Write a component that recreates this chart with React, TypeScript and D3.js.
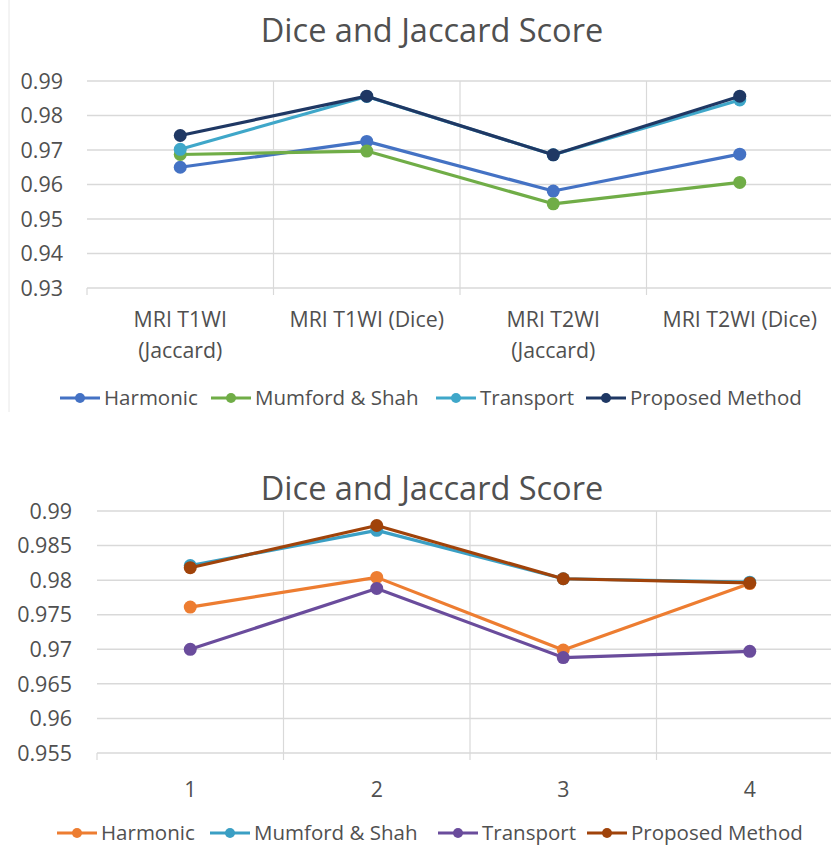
import React from "react";
import * as d3 from "d3";

// ---------- Data ----------
const topCategories = [["MRI T1WI", "(Jaccard)"], ["MRI T1WI (Dice)"], ["MRI T2WI", "(Jaccard)"], ["MRI T2WI (Dice)"]];
const topTicks = [0.93, 0.94, 0.95, 0.96, 0.97, 0.98, 0.99];
const topSeriesNames = ["Harmonic", "Mumford & Shah", "Transport", "Proposed Method"];
const topHarmonic = [0.965, 0.9725, 0.9581, 0.9688];
const topMumford = [0.9687, 0.9697, 0.9544, 0.9606];
const topTransport = [0.9702, 0.9855, 0.9686, 0.9845];
const topProposed = [0.9742, 0.9856, 0.9686, 0.9856];
const topColors = ["#4472C4", "#70AD47", "#3FA7C9", "#1F3864"];

const bottomCategories = [["1"], ["2"], ["3"], ["4"]];
const bottomTicks = [0.955, 0.96, 0.965, 0.97, 0.975, 0.98, 0.985, 0.99];
const bottomSeriesNames = ["Harmonic", "Mumford & Shah", "Transport", "Proposed Method"];
const bottomHarmonic = [0.9761, 0.9804, 0.9699, 0.9795];
const bottomMumford = [0.9821, 0.9872, 0.9802, 0.9797];
const bottomTransport = [0.97, 0.9788, 0.9688, 0.9697];
const bottomProposed = [0.9818, 0.9879, 0.9802, 0.9796];
const bottomColors = ["#ED7D31", "#3A9FC4", "#6A4C9C", "#A0430A"];

const FONT = "'Open Sans', 'DejaVu Sans', sans-serif";
const TEXT = "#505050";
const GRID = "#D9D9D9";

type ChartProps = {
  titleY: number;
  x0: number;
  y0: number;
  y1: number;
  band: number;
  labelRight: number;
  tickSize: number;
  domain: [number, number];
  ticks: number[];
  tickFormat: (v: number) => string;
  categories: string[][];
  catLabelY: number;
  series: number[][];
  names: string[];
  colors: string[];
  legendY: number;
  legendX: number[];
};

function Chart(p: ChartProps) {
  const n = p.categories.length;
  const x = d3.scaleBand<number>().domain(d3.range(n)).range([p.x0, p.x0 + p.band * n]);
  const y = d3.scaleLinear().domain(p.domain).range([p.y1, p.y0]);
  const cx = (i: number) => (x(i) as number) + x.bandwidth() / 2;
  const line = d3
    .line<number>()
    .x((_, i) => cx(i))
    .y((d) => y(d));
  const xEnd = p.x0 + p.band * n;
  return (
    <g>
      <text x={432} y={p.titleY} textAnchor="middle" fontFamily={FONT} fontSize={32.5} fill={TEXT}>
        Dice and Jaccard Score
      </text>
      {p.ticks.map((t) => (
        <g key={t}>
          <line x1={p.x0} x2={xEnd} y1={y(t)} y2={y(t)} stroke={GRID} strokeWidth={1.5} />
          <text x={p.labelRight} y={y(t)} dy="0.36em" textAnchor="end" fontFamily={FONT} fontSize={p.tickSize} fill={TEXT}>
            {p.tickFormat(t)}
          </text>
        </g>
      ))}
      {d3.range(n + 1).map((i) => (
        <line
          key={"v" + i}
          x1={p.x0 + p.band * i}
          x2={p.x0 + p.band * i}
          y1={i === 0 ? p.y1 : p.y0}
          y2={p.y1 + 7}
          stroke={GRID}
          strokeWidth={1.2}
        />
      ))}
      {p.categories.map((lines, i) => (
        <text key={"c" + i} textAnchor="middle" fontFamily={FONT} fontSize={21.3} fill={TEXT}>
          {lines.map((l, j) => (
            <tspan key={j} x={cx(i)} y={p.catLabelY + j * 31}>
              {l}
            </tspan>
          ))}
        </text>
      ))}
      {p.series.map((s, k) => (
        <g key={"s" + k}>
          <path d={line(s) as string} fill="none" stroke={p.colors[k]} strokeWidth={3.2} strokeLinejoin="round" />
          {s.map((v, i) => (
            <circle key={i} cx={cx(i)} cy={y(v)} r={6.5} fill={p.colors[k]} />
          ))}
        </g>
      ))}
      {p.names.map((name, k) => (
        <g key={"l" + k}>
          <line x1={p.legendX[k]} x2={p.legendX[k] + 40} y1={p.legendY} y2={p.legendY} stroke={p.colors[k]} strokeWidth={3} />
          <circle cx={p.legendX[k] + 20} cy={p.legendY} r={5} fill={p.colors[k]} />
          <text x={p.legendX[k] + 44} y={p.legendY} dy="0.36em" fontFamily={FONT} fontSize={20.5} fill={TEXT}>
            {name}
          </text>
        </g>
      ))}
    </g>
  );
}

export default function App() {
  return (
    <svg
      width={831}
      height={849}
      viewBox="0 0 831 849"
      style={{ position: "absolute", left: 0, top: 0, background: "#fff" }}
    >
      <rect width={831} height={849} fill="#fff" />
      <line x1={9} x2={9} y1={0} y2={412} stroke="#E8E8E8" strokeWidth={1} />
      <Chart
        titleY={42}
        x0={87}
        y0={81}
        y1={288}
        band={186.5}
        labelRight={63}
        tickSize={21.5}
        domain={[0.93, 0.99]}
        ticks={topTicks}
        tickFormat={(v) => d3.format(".2f")(v)}
        categories={topCategories}
        catLabelY={327}
        series={[topHarmonic, topMumford, topTransport, topProposed]}
        names={topSeriesNames}
        colors={topColors}
        legendY={398}
        legendX={[60, 211, 436, 586]}
      />
      <Chart
        titleY={500}
        x0={97}
        y0={511}
        y1={753}
        band={186.5}
        labelRight={72}
        tickSize={21.5}
        domain={[0.955, 0.99]}
        ticks={bottomTicks}
        tickFormat={(v) => String(+v.toFixed(3))}
        categories={bottomCategories}
        catLabelY={797}
        series={[bottomHarmonic, bottomMumford, bottomTransport, bottomProposed]}
        names={bottomSeriesNames}
        colors={bottomColors}
        legendY={833}
        legendX={[57, 210, 438, 587]}
      />
    </svg>
  );
}
